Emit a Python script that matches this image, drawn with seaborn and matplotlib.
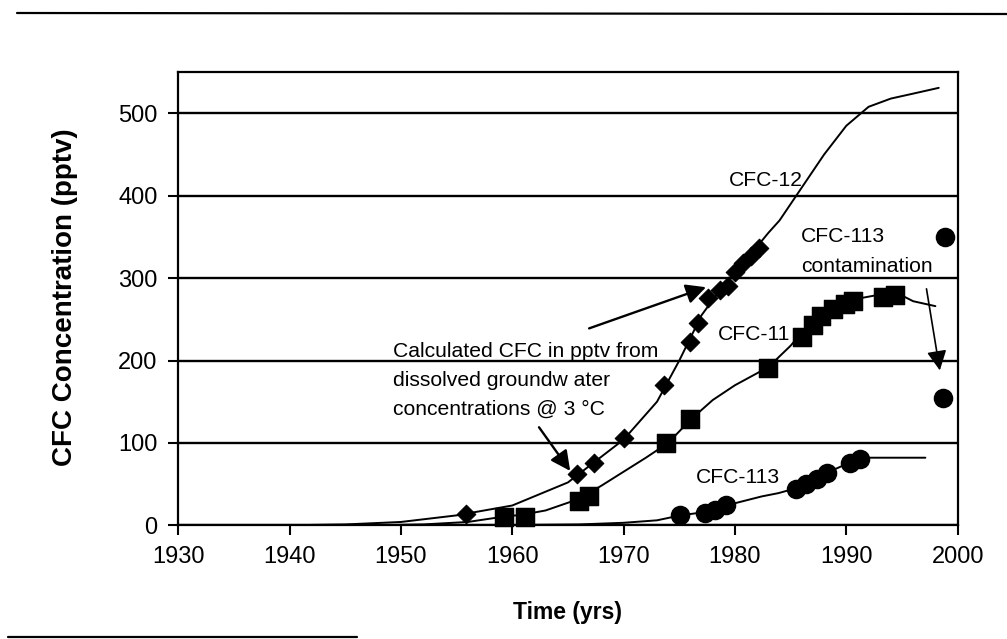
import matplotlib
matplotlib.use("Agg")
import matplotlib.pyplot as plt
import seaborn as sns
import pandas as pd
from matplotlib.lines import Line2D

# ---- data ----
# atmospheric model curves
cfc12_line_years = [1940, 1945, 1950, 1955, 1960, 1965, 1970, 1973, 1975, 1977, 1979, 1981, 1983,
                    1984, 1986, 1988, 1990, 1992, 1994, 1996, 1998.3]
cfc12_line_vals = [0, 1, 4, 12, 24, 52, 104, 150, 200, 255, 292, 322, 355, 370, 410, 450, 485,
                   508, 518, 524, 531]

cfc11_line_years = [1948, 1952, 1956, 1959, 1961, 1963, 1966, 1968, 1970, 1972, 1974, 1976, 1978,
                    1980, 1983, 1985, 1987, 1989, 1991, 1993, 1994.4, 1996, 1998]
cfc11_line_vals = [0, 1, 4, 10, 13, 18, 32, 48, 65, 82, 100, 128, 152, 170, 192, 218, 250, 266,
                   275, 280, 283, 272, 266]

cfc113_line_years = [1958, 1962, 1966, 1970, 1973, 1975.1, 1977.3, 1979.2, 1982.4, 1983.9,
                     1985.5, 1987.4, 1988.3, 1990.3, 1991.2, 1993, 1997.1]
cfc113_line_vals = [0, 0.5, 1, 3, 6, 12, 16, 24, 35, 39, 45, 57, 64, 76, 82, 82, 82]

# calculated groundwater-derived points
cfc12_pt_years = [1955.8, 1965.8, 1967.3, 1970.0, 1973.6, 1976.0, 1976.7, 1977.6, 1978.7, 1979.4,
                  1980.0, 1980.7, 1981.4, 1982.2]
cfc12_pt_vals = [14, 62, 76, 106, 170, 222, 245, 276, 286, 291, 307, 318, 327, 336]

cfc11_pt_years = [1959.3, 1961.1, 1966.0, 1966.9, 1973.8, 1976.0, 1983.0, 1986.0, 1987.0, 1987.7,
                  1988.8, 1989.9, 1990.6, 1993.3, 1994.4]
cfc11_pt_vals = [10, 10, 30, 36, 100, 129, 191, 228, 243, 254, 262, 268, 272, 277, 279]

cfc113_pt_years = [1975.1, 1977.3, 1978.2, 1979.2, 1985.5, 1986.4, 1987.4, 1988.3, 1990.3, 1991.2]
cfc113_pt_vals = [12, 15, 19, 24, 44, 50, 56, 63, 75, 81]

contam_years = [1998.9, 1998.7]
contam_vals = [350, 155]

x_ticks = [1930, 1940, 1950, 1960, 1970, 1980, 1990, 2000]
y_ticks = [0, 100, 200, 300, 400, 500]

# ---- build frames ----
lines_df = pd.concat([
    pd.DataFrame({"year": cfc12_line_years, "ppt": cfc12_line_vals, "gas": "CFC-12"}),
    pd.DataFrame({"year": cfc11_line_years, "ppt": cfc11_line_vals, "gas": "CFC-11"}),
    pd.DataFrame({"year": cfc113_line_years, "ppt": cfc113_line_vals, "gas": "CFC-113"}),
])
pts12 = pd.DataFrame({"year": cfc12_pt_years, "ppt": cfc12_pt_vals})
pts11 = pd.DataFrame({"year": cfc11_pt_years, "ppt": cfc11_pt_vals})
pts113 = pd.DataFrame({"year": cfc113_pt_years + contam_years, "ppt": cfc113_pt_vals + contam_vals})

sns.set_style("white")
plt.rcParams["font.family"] = ["Liberation Sans", "DejaVu Sans"]
plt.rcParams["text.color"] = "black"
plt.rcParams["axes.labelcolor"] = "black"
plt.rcParams["xtick.color"] = "black"
plt.rcParams["ytick.color"] = "black"

fig = plt.figure(figsize=(10.07, 6.39), dpi=100)
ax = fig.add_axes([0.177, 0.178, 0.774, 0.709])

sns.lineplot(data=lines_df, x="year", y="ppt", units="gas", estimator=None, sort=False,
             color="black", lw=1.4, ax=ax, legend=False)
sns.scatterplot(data=pts12, x="year", y="ppt", marker="D", s=90, color="black",
                edgecolor="black", ax=ax, legend=False, zorder=5, clip_on=False)
sns.scatterplot(data=pts11, x="year", y="ppt", marker="s", s=175, color="black",
                edgecolor="black", ax=ax, legend=False, zorder=5, clip_on=False)
sns.scatterplot(data=pts113, x="year", y="ppt", marker="o", s=170, color="black",
                edgecolor="black", ax=ax, legend=False, zorder=5, clip_on=False)

ax.set_xlim(1930, 2000)
ax.set_ylim(0, 550)
ax.set_xticks(x_ticks)
ax.set_yticks(y_ticks)
ax.tick_params(axis="both", direction="out", length=7, width=1.5, color="black",
               labelsize=17, pad=8, bottom=True, left=True, labelcolor="black")
for sp in ax.spines.values():
    sp.set_visible(True)
    sp.set_color("black")
    sp.set_linewidth(1.6)
ax.yaxis.grid(True, color="black", lw=1.7)
ax.xaxis.grid(False)
ax.set_axisbelow(True)

ax.set_xlabel("Time (yrs)", fontsize=16.5, fontweight="bold", labelpad=24, color="black")
ax.set_ylabel("CFC Concentration (pptv)", fontsize=20, fontweight="bold", color="black")
ax.yaxis.set_label_coords(-0.128, 0.503)

tf = 15.2
ax.text(1982.8, 418, "CFC-12", fontsize=tf, ha="center", va="center")
ax.text(1978.5, 232, "CFC-11", fontsize=tf, va="center")
ax.text(1976.5, 58, "CFC-113", fontsize=tf, va="center")
ax.text(1985.9, 332, "CFC-113\ncontamination", fontsize=tf, va="center", linespacing=1.75)
ax.text(1949.3, 176, "Calculated CFC in pptv from\ndissolved groundw ater\nconcentrations @ 3 \u00b0C",
        fontsize=tf, va="center", linespacing=1.65)

arrow = dict(arrowstyle="-|>", color="black", lw=1.7, mutation_scale=30, shrinkA=0, shrinkB=0)
ax.annotate("", xy=(1977.4, 289), xytext=(1966.9, 239), arrowprops=arrow)
ax.annotate("", xy=(1965.2, 66), xytext=(1962.4, 119), arrowprops=arrow)
ax.annotate("", xy=(1998.4, 188), xytext=(1997.2, 287), arrowprops=dict(arrow, lw=1.2))

# page frame lines from the scan
fig.add_artist(Line2D([17 / 1007, 1.0], [1 - 13 / 639, 1 - 14 / 639], color="black", lw=1.6,
                      transform=fig.transFigure))
fig.add_artist(Line2D([8 / 1007, 357 / 1007], [1 - 637 / 639, 1 - 637 / 639], color="black",
                      lw=1.6, transform=fig.transFigure))

fig.savefig("out.png", dpi=100)
